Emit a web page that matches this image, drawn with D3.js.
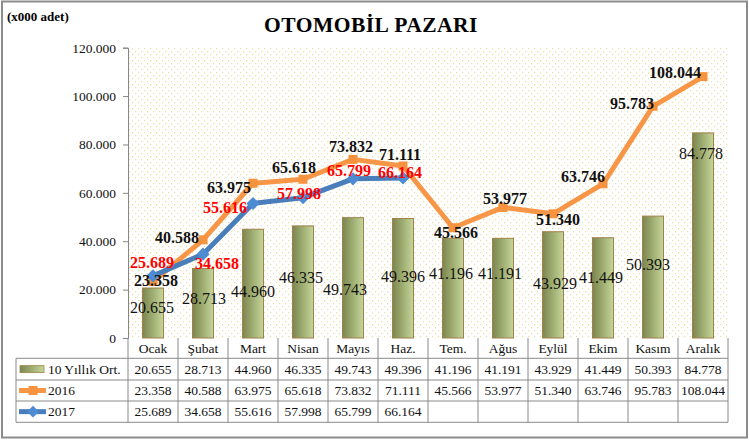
<!DOCTYPE html>
<html><head><meta charset="utf-8">
<script src="https://cdn.jsdelivr.net/npm/d3@7"></script>
<style>html,body{margin:0;padding:0;background:#fff;}svg{display:block;font-family:"Liberation Serif","Times New Roman",serif;}</style>
</head><body><svg id="c" width="749" height="440"></svg>
<script>
const months = ["Ocak","Şubat","Mart","Nisan","Mayıs","Haz.","Tem.","Ağus","Eylül","Ekim","Kasım","Aralık"];
const avg10 = [20655,28713,44960,46335,49743,49396,41196,41191,43929,41449,50393,84778];
const y2016 = [23358,40588,63975,65618,73832,71111,45566,53977,51340,63746,95783,108044];
const y2017 = [25689,34658,55616,57998,65799,66164];
const yTicks = [0,20000,40000,60000,80000,100000,120000];
const seriesNames = ["10 Yıllık Ort.","2016","2017"];
const title = "OTOMOBİL PAZARI";
const unitLabel = "(x000 adet)";

// label placement tweaks (pixels), layout only
const barLblOff = [[-1,19],[1,30],[0,62],[-2,51],[-8,72],[0,58],[-2,35],[-3,35],[2,52],[-2,40],[-5,48],[-2,20]];
const l16Off = [[3,-1],[-26,-2],[-24,4],[-9,-12],[-2,-13],[-3,-12],[3,5],[2,-9],[5,6],[-20,-7],[-21,-3],[-28,-4]];
const l17Off = [[-1,-13],[14,9],[-28,4],[-4,-4],[-4,-8],[-3,-6]];

const tr = d3.formatLocale({decimal:",", thousands:".", grouping:[3], currency:["",""]});
const fmt = tr.format(",");

const svg = d3.select("#c");
const L = 128, R = 728, T = 47.7, B = 338;
const x = d3.scaleBand().domain(months).range([L,R]).padding(0);
const y = d3.scaleLinear().domain([0,120000]).range([B,T]);
const cx = m => x(m) + x.bandwidth()/2;

const defs = svg.append("defs");
const pat = defs.append("pattern").attr("id","dots").attr("patternUnits","userSpaceOnUse").attr("width",6).attr("height",6);
pat.append("rect").attr("width",6).attr("height",6).attr("fill","#fff");
pat.append("rect").attr("x",0).attr("y",0).attr("width",1.2).attr("height",1.2).attr("fill","#eadfa8");
pat.append("rect").attr("x",3).attr("y",3).attr("width",1.2).attr("height",1.2).attr("fill","#eadfa8");
const g = defs.append("linearGradient").attr("id","barg").attr("x1","0").attr("x2","1").attr("y1","0").attr("y2","0");
g.append("stop").attr("offset","0").attr("stop-color","#7b8650");
g.append("stop").attr("offset","0.5").attr("stop-color","#9fae72");
g.append("stop").attr("offset","1").attr("stop-color","#c6d69c");

// outer border
svg.append("rect").attr("x",2).attr("y",1.5).attr("width",745).attr("height",436).attr("fill","#fff").attr("stroke","#8c8c8c").attr("stroke-width",2);

// plot background
svg.append("rect").attr("x",L).attr("y",T).attr("width",R-L).attr("height",B-T).attr("fill","url(#dots)");

// title
svg.append("text").attr("x",371).attr("y",32).attr("text-anchor","middle").attr("font-size",21.5).attr("font-weight","bold").attr("letter-spacing",0.5).text(title);
svg.append("text").attr("x",7).attr("y",21).attr("font-size",13).attr("font-weight","bold").text(unitLabel);

// y axis
const ax = svg.append("g").attr("transform",`translate(${L},0)`).call(d3.axisLeft(y).tickValues(yTicks).tickFormat(fmt).tickSize(5).tickPadding(7));
ax.attr("font-family",null);
ax.select(".domain").attr("stroke","#868686");
ax.selectAll(".tick line").attr("stroke","#868686");
ax.selectAll(".tick text").attr("font-size",13.5).attr("fill","#111").attr("font-family","Liberation Serif, serif");

// bars
const bw = 21;
svg.append("g").selectAll("rect").data(avg10).join("rect")
  .attr("x",(d,i)=>cx(months[i])-bw/2).attr("y",d=>y(d)).attr("width",bw).attr("height",d=>B-y(d))
  .attr("fill","url(#barg)").attr("stroke","#a2804a").attr("stroke-width",1);

// bar labels
svg.append("g").selectAll("text").data(avg10).join("text")
  .attr("x",(d,i)=>cx(months[i])+barLblOff[i][0]).attr("y",(d,i)=>y(d)+barLblOff[i][1])
  .attr("dy","0.35em").attr("text-anchor","middle").attr("font-size",16).attr("fill","#111").text(d=>fmt(d));

// lines
const line = d3.line().x((d,i)=>cx(months[i])).y(d=>y(d));
svg.append("path").datum(y2016).attr("d",line).attr("fill","none").attr("stroke","#f79646").attr("stroke-width",5).attr("stroke-linejoin","round");
svg.append("g").selectAll("rect").data(y2016).join("rect")
  .attr("x",(d,i)=>cx(months[i])-4.5).attr("y",d=>y(d)-4.5).attr("width",9).attr("height",9).attr("fill","#f7923f");
svg.append("path").datum(y2017).attr("d",line).attr("fill","none").attr("stroke","#4a7ebb").attr("stroke-width",5).attr("stroke-linejoin","round");
svg.append("g").selectAll("path").data(y2017).join("path")
  .attr("d",d3.symbol(d3.symbolDiamond2,110)).attr("transform",(d,i)=>`translate(${cx(months[i])},${y(d)})`).attr("fill","#4d8bd3");

// line labels
svg.append("g").selectAll("text").data(y2016).join("text")
  .attr("x",(d,i)=>cx(months[i])+l16Off[i][0]).attr("y",(d,i)=>y(d)+l16Off[i][1])
  .attr("dy","0.35em").attr("text-anchor","middle").attr("font-size",16).attr("font-weight","bold").attr("fill","#111").text(d=>fmt(d));
svg.append("g").selectAll("text").data(y2017).join("text")
  .attr("x",(d,i)=>cx(months[i])+l17Off[i][0]).attr("y",(d,i)=>y(d)+l17Off[i][1])
  .attr("dy","0.35em").attr("text-anchor","middle").attr("font-size",16).attr("font-weight","bold").attr("fill","#ff0000").text(d=>fmt(d));

// data table
const rowTop = [B, 358.3, 380, 401, 422.3];
const tg = svg.append("g").attr("stroke","#8a8a8a").attr("stroke-width",1);
tg.append("line").attr("x1",L).attr("x2",R).attr("y1",rowTop[1]).attr("y2",rowTop[1]);
[2,3,4].forEach(k=>tg.append("line").attr("x1",16).attr("x2",R).attr("y1",rowTop[k]).attr("y2",rowTop[k]));
tg.append("line").attr("x1",16).attr("x2",L).attr("y1",rowTop[1]).attr("y2",rowTop[1]);
months.forEach(m=>tg.append("line").attr("x1",x(m)).attr("x2",x(m)).attr("y1",B).attr("y2",rowTop[4]));
tg.append("line").attr("x1",R).attr("x2",R).attr("y1",B).attr("y2",rowTop[4]);
tg.append("line").attr("x1",16).attr("x2",16).attr("y1",rowTop[1]).attr("y2",rowTop[4]);

const rowMid = k => (rowTop[k]+rowTop[k+1])/2;
const tt = svg.append("g").attr("font-size",13.5).attr("fill","#111").attr("text-anchor","middle");
months.forEach((m,i)=>tt.append("text").attr("x",cx(m)).attr("y",rowMid(0)).attr("dy","0.35em").text(m));
[avg10,y2016,y2017].forEach((arr,k)=>arr.forEach((v,i)=>tt.append("text").attr("x",cx(months[i])).attr("y",rowMid(k+1)).attr("dy","0.35em").text(fmt(v))));

// legend keys
const lg = svg.append("g");
lg.append("rect").attr("x",20).attr("y",rowMid(1)-3.5).attr("width",24).attr("height",7).attr("fill","url(#barg)").attr("stroke","#a2804a").attr("stroke-width",0.8);
lg.append("line").attr("x1",19).attr("x2",46).attr("y1",rowMid(2)).attr("y2",rowMid(2)).attr("stroke","#f79646").attr("stroke-width",5);
lg.append("rect").attr("x",28.5).attr("y",rowMid(2)-4.5).attr("width",9).attr("height",9).attr("fill","#f7923f");
lg.append("line").attr("x1",19).attr("x2",46).attr("y1",rowMid(3)).attr("y2",rowMid(3)).attr("stroke","#4a7ebb").attr("stroke-width",5);
lg.append("path").attr("d",d3.symbol(d3.symbolDiamond2,90)).attr("transform",`translate(33,${rowMid(3)})`).attr("fill","#4d8bd3");
seriesNames.forEach((s,k)=>lg.append("text").attr("x",48).attr("y",rowMid(k+1)).attr("dy","0.35em").attr("font-size",13.5).attr("fill","#111").text(s));
</script></body></html>
